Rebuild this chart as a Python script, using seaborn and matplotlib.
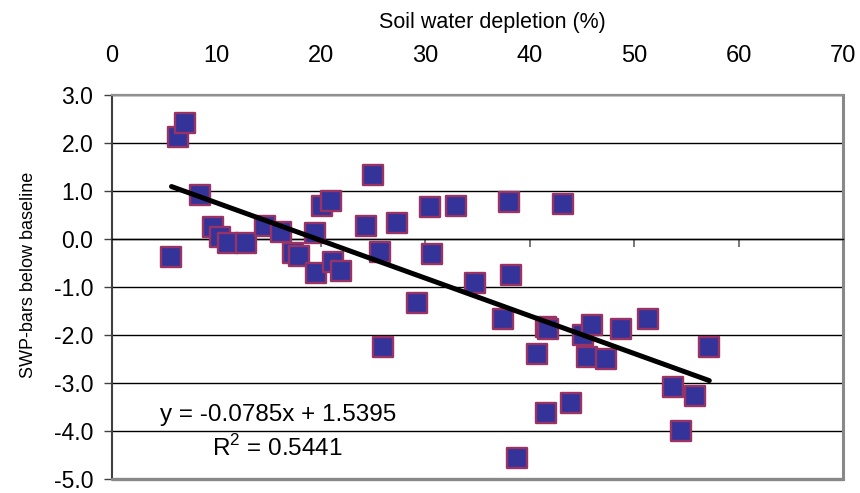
import numpy as np
import pandas as pd
import matplotlib
matplotlib.use("Agg")
import matplotlib.pyplot as plt
import seaborn as sns

# data
depletion = [5.7, 6.35, 7.0, 8.4, 9.7, 10.3, 11.1, 12.8, 14.7, 16.2, 17.3, 17.9,
             19.4, 19.5, 20.1, 21.0, 21.2, 21.9, 24.3, 25.0, 25.7, 26.0, 27.3, 29.2,
             30.5, 30.6, 32.9, 34.8, 37.4, 38.0, 38.2, 38.8, 40.7, 41.6, 41.6, 41.8,
             43.2, 44.0, 45.1, 45.5, 46.0, 47.3, 48.7, 51.3, 53.7, 54.5, 55.8, 57.2]
swp = [-0.37, 2.13, 2.42, 0.92, 0.24, 0.05, -0.09, -0.09, 0.27, 0.15, -0.30, -0.35,
       0.13, -0.70, 0.69, 0.80, -0.47, -0.66, 0.28, 1.33, -0.28, -2.24, 0.33, -1.34,
       0.67, -0.32, 0.69, -0.92, -1.67, 0.76, -0.75, -4.56, -2.40, -3.62, -1.83, -1.88,
       0.73, -3.41, -2.00, -2.45, -1.79, -2.51, -1.88, -1.67, -3.09, -3.99, -3.27, -2.26]

# trend line from the chart
slope = -0.0785
intercept = 1.5395
r_squared = 0.5441

data = pd.DataFrame({"depletion": depletion, "swp": swp})

sns.set_theme(style="white")
plt.rcParams["font.family"] = ["Liberation Sans", "DejaVu Sans"]
plt.rcParams["mathtext.fontset"] = "custom"
plt.rcParams["mathtext.rm"] = "Liberation Sans"

fig = plt.figure(figsize=(8.6, 4.93), dpi=100)
ax = fig.add_axes([0.1302, 0.0284, 0.85, 0.779])

sns.scatterplot(data=data, x="depletion", y="swp", marker="s", s=200,
                color="#333399", edgecolor="#993366", linewidth=1.7, ax=ax, zorder=3)

line_x = np.array([data["depletion"].min(), data["depletion"].max()])
sns.lineplot(x=line_x, y=slope * line_x + intercept, color="black", linewidth=3.6,
             ax=ax, zorder=4)

ax.set_xlim(0, 70)
ax.set_ylim(-5, 3)
ax.set_xticks(range(0, 71, 10))
ax.set_yticks(range(-5, 4))
ax.yaxis.set_major_formatter(matplotlib.ticker.FormatStrFormatter("%.1f"))

# horizontal gridlines only
ax.yaxis.grid(True, color="black", linewidth=1)
ax.xaxis.grid(False)

# x axis crosses at y = 0, labels sit above the plot
ax.spines["bottom"].set_position(("data", 0))
ax.spines["bottom"].set_color("black")
ax.spines["bottom"].set_linewidth(1)
ax.spines["left"].set_color("#404040")
ax.spines["left"].set_linewidth(1.5)
ax.spines["top"].set_color("#909090")
ax.spines["top"].set_linewidth(1.6)
ax.spines["right"].set_color("#888888")
ax.spines["right"].set_linewidth(2.2)
ax.axhline(-5, color="#888888", linewidth=2.4, clip_on=False, zorder=5)

ax.tick_params(axis="x", bottom=True, top=False, labelbottom=False, labeltop=True,
               direction="out", length=6, width=1.2, color="#606060",
               labelsize=17, pad=14, labelcolor="black")
ax.tick_params(axis="y", left=True, direction="out", length=5.5, width=1,
               color="#404040", labelsize=16.5, pad=8, labelcolor="black")

ax.xaxis.set_label_position("top")
ax.set_xlabel("Soil water depletion (%)", fontsize=15.5, color="black")
ax.xaxis.set_label_coords(0.52, 1.175)
ax.set_ylabel("SWP-bars below baseline", fontsize=13, color="black")
ax.yaxis.set_label_coords(-0.103, 0.531)

ax.text(0.227, 0.167, f"y = {slope}x + {intercept}", transform=ax.transAxes,
        ha="center", va="center", fontsize=17.5, color="black", zorder=6)
ax.text(0.226, 0.081, f"R$^2$ = {r_squared}", transform=ax.transAxes,
        ha="center", va="center", fontsize=17.5, color="black", zorder=6)

plt.savefig("out.png", dpi=100)
